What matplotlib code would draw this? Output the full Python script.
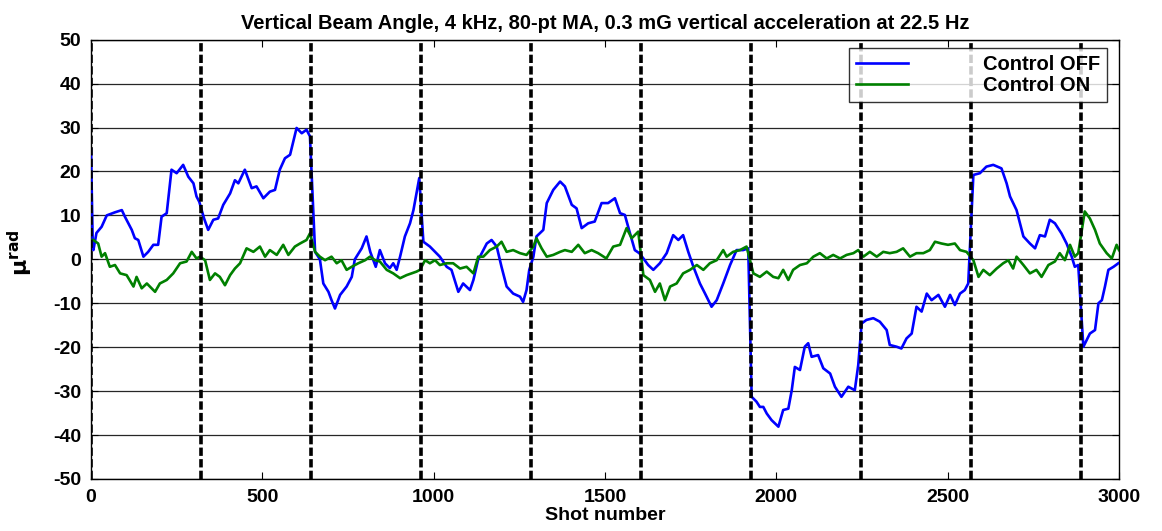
import matplotlib
matplotlib.use("Agg")
import matplotlib.pyplot as plt

# segment boundaries (shot number where each run starts)
boundaries = [0, 321, 642, 963, 1284, 1605, 1926, 2247, 2568, 2889]

# Control OFF trace (shot, urad)
off_x = [0, 5, 7, 16, 31, 46, 70, 90, 99, 119, 128, 138, 153, 167, 182, 196, 206, 221,
         235, 250, 269, 284, 299, 308, 316,
         330, 342, 357, 371, 386, 406, 420, 430, 449, 469, 483, 503, 522, 537, 551, 566,
         581, 600, 615, 629, 639,
         654, 668, 678, 693, 702, 712, 727, 746, 761, 770, 790, 804, 815, 831, 843, 858,
         872, 882, 892, 902, 916, 931, 941, 950, 958,
         970, 989, 1004, 1018, 1038, 1052, 1072, 1086, 1106, 1116, 1130, 1135, 1155, 1169,
         1184, 1198, 1213, 1232, 1252, 1261, 1271, 1279,
         1291, 1300, 1320, 1330, 1349, 1369, 1383, 1403, 1417, 1432, 1451, 1470, 1490,
         1509, 1529, 1544, 1558, 1573, 1587, 1600,
         1612, 1626, 1641, 1660, 1680, 1699, 1714, 1728, 1743, 1758, 1777, 1792, 1811,
         1826, 1845, 1865, 1884, 1903, 1918,
         1928, 1942, 1952, 1962, 1972, 1986, 2006, 2020, 2035, 2045, 2054, 2069, 2083,
         2093, 2103, 2122, 2137, 2157, 2171, 2190, 2210, 2229, 2239,
         2249, 2263, 2283, 2302, 2322, 2331, 2351, 2365, 2380, 2395, 2409, 2424, 2439,
         2453, 2473, 2492, 2507, 2521, 2536, 2550, 2560,
         2575, 2594, 2613, 2633, 2657, 2672, 2682, 2701, 2721, 2740, 2755, 2769, 2784,
         2798, 2813, 2832, 2847, 2862, 2871, 2881,
         2896, 2915, 2930, 2940, 2950, 2959, 2969, 2984, 2998]
off_y = [25, 4, 2.1, 6, 7.4, 10, 10.7, 11.2, 9.7, 6.7, 4.8, 4.4, 0.6, 1.7, 3.3, 3.3, 9.7, 10.5,
         20.4, 19.6, 21.5, 18.8, 17.3, 14.3, 13.1,
         9.3, 6.7, 9, 9.3, 12.4, 15, 18, 17.3, 20.4, 16.2, 16.6, 13.9, 15.4, 15.8, 20.4, 23,
         23.8, 29.9, 28.7, 29.5, 28,
         1.7, 0, -5.5, -7.4, -9.3, -11.2, -8.1, -6.2, -4, 0, 2.5, 5.2, 1.7, -1.7, 2.1, -0.9,
         -2, -0.9, -2.4, 0.6, 5.2, 8.2, 11.2, 15, 18.5,
         4, 2.9, 1.7, 0.6, -1.7, -2.4, -7.4, -5.5, -7, -4.7, 0, 0.6, 3.6, 4.4,
         2.9, -1.7, -6.2, -7.8, -8.5, -9.7, -7, -2.4,
         0.6, 5.2, 6.7, 12.8, 15.8, 17.7, 16.6, 12.4, 11.6, 7.1, 8.2, 8.6, 12.8,
         12.8, 13.9, 10.5, 10.1, 5.9, 2.1, 1.4,
         0.2, -1.3, -2.4, -0.9, 1.4, 5.5, 4.4, 5.5, 1.7, -1.7, -5.5, -7.8, -10.8,
         -9.3, -5.5, -1.3, 2.1, 2.1, 2.5,
         -31.3, -32.4, -33.6, -33.6, -35.1, -36.6, -38.1, -34.3, -34, -29.8, -24.5, -25.2, -19.9,
         -19.1, -22.2, -21.8, -24.8, -26, -29, -31.3, -29, -29.8, -24.1,
         -14.6, -13.8, -13.4, -14.2, -16.1, -19.5, -19.9, -20.3, -18, -16.9, -10.8, -11.9, -7.8,
         -9.3, -8.1, -10.8, -8.1, -10.4, -7.8, -7, -5.5,
         19.2, 19.6, 21.1, 21.5, 20.7, 17.3, 14.3, 11.2, 5.2, 3.6, 2.5, 5.5, 5.2,
         9, 8.2, 5.9, 3.6, 0.6, -1.7, -1.3,
         -19.9, -16.9, -16.1, -10, -9.3, -6.2, -2.4, -1.7, -0.9]

# Control ON trace (shot, urad)
on_x = [0, 7, 21, 31, 41, 55, 70, 85, 104, 124, 133, 148, 163, 187, 201, 221, 240, 260,
        279, 294, 308, 318,
        333, 347, 362, 376, 391, 406, 420, 435, 454, 474, 493, 508, 522, 542, 561, 576,
        595, 610, 629, 639,
        654, 668, 683, 702, 717, 731, 746, 761, 780, 800, 814, 829, 843, 863, 882, 902,
        921, 936, 950, 960,
        975, 989, 1004, 1018, 1038, 1057, 1077, 1096, 1116, 1130, 1145, 1164, 1184, 1198,
        1213, 1232, 1252, 1271,
        1291, 1300, 1315, 1330, 1349, 1369, 1383, 1403, 1422, 1441, 1461, 1480, 1504,
        1524, 1544, 1563, 1578, 1597,
        1612, 1631, 1646, 1660, 1675, 1690, 1709, 1728, 1748, 1768, 1787, 1806, 1826,
        1845, 1855, 1874, 1894, 1913,
        1933, 1952, 1972, 1991, 2006, 2020, 2035, 2049, 2069, 2089, 2108, 2127, 2147,
        2166, 2186, 2205, 2225, 2239,
        2254, 2273, 2293, 2312, 2331, 2351, 2370, 2390, 2409, 2429, 2448, 2463, 2482,
        2501, 2521, 2536, 2555,
        2575, 2590, 2604, 2623, 2643, 2662, 2677, 2691, 2701, 2721, 2740, 2759, 2774,
        2794, 2813, 2827, 2842, 2857, 2871, 2881,
        2900, 2915, 2930, 2944, 2964, 2979, 2993, 3000]
on_y = [4.4, 4.4, 3.6, 0.6, 1.4, -1.7, -1.3, -3.2, -3.6, -6.2, -4, -6.6, -5.5, -7.4, -5.5,
        -4.7, -3.2, -0.9, -0.5, 1.7, 0.2, 0.6,
        -0.2, -4.7, -3.2, -4, -5.9, -3.6, -2.1, -0.9, 2.5, 1.7, 2.9, 0.6, 2.1, 1, 3.3, 1,
        2.9, 3.6, 4.4, 5.9,
        1.7, 0.6, -0.2, 0.6, -0.9, -0.2, -2.4, -1.7, -0.9, -0.2, 0.6, -0.2, -0.5, -2.4,
        -3.2, -4.3, -3.6, -3.2, -2.8, -2.4,
        -0.2, -0.9, -0.2, -1.3, -0.9, -0.9, -2.1, -1.7, -3.2, 0.6, 0.6, 2.1, 2.9, 4,
        1.7, 2.1, 1.4, 1,
        2.9, 4.8, 2.5, 0.6, 1, 1.7, 2.1, 1.7, 3.3, 1.4, 2.1, 1.4, 0.2,
        2.9, 3.3, 7.1, 4.8, 6.3,
        -3.6, -4.7, -7.4, -5.5, -9.3, -6.2, -5.5, -3.2, -2.4, -1.3, -2.4, -0.9, -0.2,
        2.1, 0.6, 1.7, 2.1, 2.9,
        -3.2, -4, -2.8, -4, -4.3, -2.4, -4.7, -2.4, -1.3, -0.9, 0.6, 1.4, 0.2,
        1, 0.2, 1, 1.4, 2.1,
        0.6, 1.7, 0.6, 1.7, 1.4, 1.7, 2.5, 0.6, 1.4, 1.4, 2.1, 4, 3.6,
        3.3, 3.6, 2.1, 1.7,
        -0.2, -4, -2.4, -3.6, -2.1, -0.9, -0.2, -2.1, 0.6, -1.3, -3.2, -2.4, -4,
        -1.3, -0.5, 1.4, -0.2, 3.3, 0.6, 1.4,
        10.9, 9.3, 6.7, 3.6, 1.4, 0.2, 3.3, 2.1]

yticks = list(range(-50, 51, 10))
xticks = [0, 500, 1000, 1500, 2000, 2500, 3000]

plt.rcParams["font.family"] = ["Liberation Sans", "DejaVu Sans"]
plt.rcParams["font.weight"] = "bold"
plt.rcParams["axes.unicode_minus"] = False

fig = plt.figure(figsize=(11.62, 5.31), dpi=100)
ax = fig.add_axes([0.0783, 0.098, 0.8847, 0.8273])

for yv in yticks:
    ax.axhline(yv, color="0.15", lw=0.9, zorder=1)

ax.plot(off_x, off_y, color="#0000ff", lw=1.9, label="Control OFF", zorder=3)
ax.plot(on_x, on_y, color="#008000", lw=1.9, label="Control ON", zorder=3)

for b in boundaries:
    ax.axvline(b, color="black", lw=2.6, linestyle=(0, (2.3, 0.9)), zorder=4)

ax.set_xlim(0, 3000)
ax.set_ylim(-50, 50)
ax.set_xticks(xticks)
ax.set_yticks(yticks)
ax.tick_params(direction="in", top=True, right=True, length=5, width=0.8,
               labelsize=14, pad=7)
for lab in ax.get_xticklabels() + ax.get_yticklabels():
    lab.set_fontweight("bold")
for sp in ax.spines.values():
    sp.set_linewidth(1.0)

ax.set_xlabel("Shot number", fontsize=14, fontweight="bold", labelpad=1)
ax.set_ylabel(r"$\mathbf{\mu}^{\mathbf{rad}}$", fontsize=16)
ax.yaxis.set_label_coords(-0.054, 0.515)
ax.set_title("Vertical Beam Angle, 4 kHz, 80-pt MA, 0.3 mG vertical acceleration at 22.5 Hz",
             fontsize=14.5, fontweight="bold", pad=8)

leg = ax.legend(loc="upper right", bbox_to_anchor=(0.9885, 0.982), fontsize=14.5,
                frameon=True, fancybox=False, edgecolor="black", handlelength=2.6,
                handletextpad=3.7, borderpad=0.35, labelspacing=0.1, borderaxespad=0)
leg.get_frame().set_linewidth(1.0)
for t in leg.get_texts():
    t.set_fontweight("bold")

fig.savefig("out.png", dpi=100)
plt.close(fig)
